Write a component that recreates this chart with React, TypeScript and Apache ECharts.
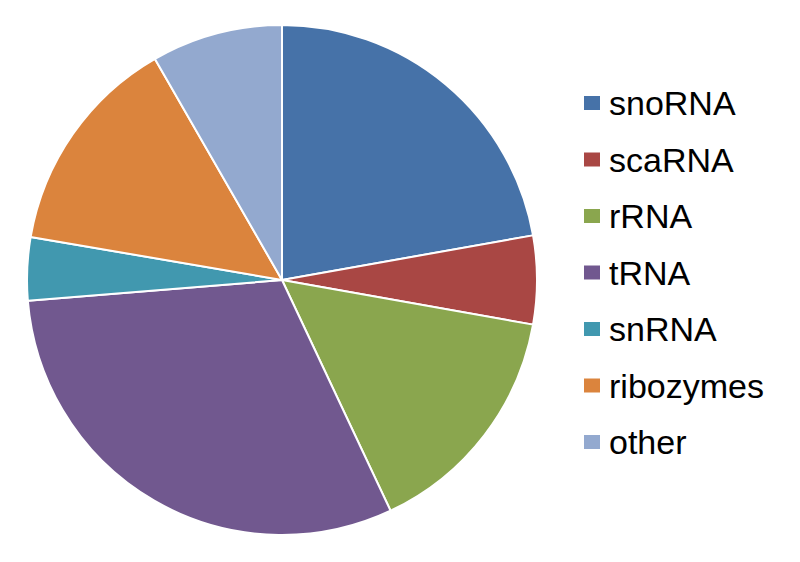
import React, { useEffect, useRef } from "react";
import * as echarts from "echarts";

const categories = ["snoRNA", "scaRNA", "rRNA", "tRNA", "snRNA", "ribozymes", "other"];
const values = [22.2, 5.6, 15.2, 30.7, 4.0, 14.0, 8.3];
const colors = ["#4672A8", "#A94744", "#8AA64E", "#71588F", "#4198AF", "#DB843D", "#93A9CF"];

export default function App() {
  const ref = useRef<HTMLDivElement>(null);
  useEffect(() => {
    if (!ref.current) return;
    const chart = echarts.init(ref.current, undefined, { renderer: "svg" });
    chart.setOption({
      animation: false,
      backgroundColor: "#ffffff",
      color: colors,
      legend: {
        orient: "vertical",
        left: 582,
        top: 83,
        padding: 0,
        icon: "rect",
        itemWidth: 18,
        itemHeight: 16,
        itemGap: 16.5,
        selectedMode: false,
        textStyle: {
          fontFamily: "Liberation Sans, Arial, sans-serif",
          fontSize: 34,
          lineHeight: 40,
          color: "#000000",
          padding: [0, 0, 0, 3],
        },
        data: categories,
      },
      series: [
        {
          type: "pie",
          center: [282, 280],
          radius: 255,
          startAngle: 90,
          clockwise: true,
          label: { show: false },
          labelLine: { show: false },
          emphasis: { disabled: true },
          itemStyle: { borderColor: "#ffffff", borderWidth: 2 },
          data: categories.map((name, i) => ({ name, value: values[i] })),
        },
      ],
    });
    return () => chart.dispose();
  }, []);
  return <div ref={ref} style={{ width: 800, height: 562, position: "absolute", left: 0, top: 0 }} />;
}
